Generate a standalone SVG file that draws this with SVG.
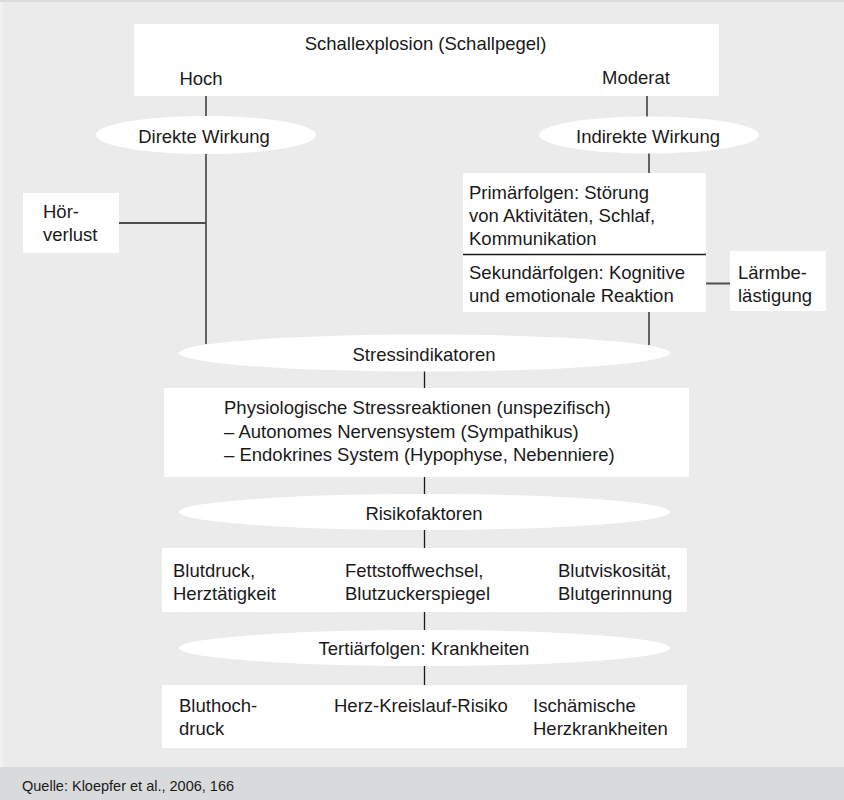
<svg xmlns="http://www.w3.org/2000/svg" width="844" height="800" viewBox="0 0 844 800">
<style>
text{font-family:"Liberation Sans",Arial,sans-serif;font-size:18.5px;fill:#1a1a1a}
.box{fill:#ffffff}
.ell{fill:#ffffff}
.ln{stroke:#1a1a1a;stroke-width:1.3;fill:none}
.gl{stroke:#4d4d4d;stroke-width:2;fill:none}
.mid{text-anchor:middle}
.src{font-size:14.5px}
</style>
<rect x="0" y="0" width="844" height="800" fill="#ebebeb"/>
<rect x="0" y="0" width="844" height="2" fill="#dcdcdc"/>
<rect x="0" y="2" width="3" height="765" fill="#f1f1f1"/>
<rect x="0" y="767" width="844" height="33" fill="#d9dadb"/>

<g id="connectors">
<line class="ln" x1="206" y1="96" x2="206" y2="116"/>
<line class="ln" x1="206" y1="154" x2="206" y2="344"/>
<line class="gl" x1="119" y1="223" x2="206" y2="223"/>
<line class="ln" x1="647" y1="96" x2="647" y2="117"/>
<line class="ln" x1="649" y1="153" x2="649" y2="173"/>
<line class="ln" x1="649" y1="312" x2="649" y2="345"/>
<line class="gl" x1="706" y1="283.5" x2="730" y2="283.5"/>
<line class="ln" x1="424.5" y1="371" x2="424.5" y2="388"/>
<line class="ln" x1="424.5" y1="477" x2="424.5" y2="494"/>
<line class="ln" x1="424.5" y1="530" x2="424.5" y2="548"/>
<line class="ln" x1="424.5" y1="612" x2="424.5" y2="630"/>
<line class="ln" x1="424.5" y1="666" x2="424.5" y2="685"/>
</g>

<g id="schallexplosion">
<rect class="box" x="134" y="24" width="585" height="72"/>
<text class="mid" x="425.5" y="50">Schallexplosion (Schallpegel)</text>
<text class="mid" x="201" y="85">Hoch</text>
<text class="mid" x="636" y="84">Moderat</text>
</g>

<g id="direkte-wirkung">
<ellipse class="ell" cx="206" cy="135" rx="110" ry="19"/>
<text class="mid" x="204" y="143">Direkte Wirkung</text>
</g>

<g id="indirekte-wirkung">
<ellipse class="ell" cx="649" cy="135" rx="110" ry="18.5"/>
<text class="mid" x="648" y="143">Indirekte Wirkung</text>
</g>

<g id="hoerverlust">
<rect class="box" x="23" y="193" width="96" height="60"/>
<text x="43" y="217.5">Hör-</text>
<text x="43" y="241">verlust</text>
</g>

<g id="folgen">
<rect class="box" x="463" y="173" width="243" height="139"/>
<line class="ln" x1="463" y1="254.5" x2="706" y2="254.5"/>
<text x="469" y="199">Primärfolgen: Störung</text>
<text x="469" y="222">von Aktivitäten, Schlaf,</text>
<text x="469" y="245">Kommunikation</text>
<text x="469" y="279">Sekundärfolgen: Kognitive</text>
<text x="469" y="302">und emotionale Reaktion</text>
</g>

<g id="laermbelaestigung">
<rect class="box" x="730" y="251" width="96" height="60"/>
<text x="738" y="279">Lärmbe-</text>
<text x="738" y="302">lästigung</text>
</g>

<g id="stressindikatoren">
<ellipse class="ell" cx="424.5" cy="353" rx="245.5" ry="18.5"/>
<text class="mid" x="424" y="360.5">Stressindikatoren</text>
</g>

<g id="stressreaktionen">
<rect class="box" x="164" y="388" width="525" height="89"/>
<text x="224" y="414">Physiologische Stressreaktionen (unspezifisch)</text>
<text x="224" y="437.5">– Autonomes Nervensystem (Sympathikus)</text>
<text x="224" y="461">– Endokrines System (Hypophyse, Nebenniere)</text>
</g>

<g id="risikofaktoren">
<ellipse class="ell" cx="424.5" cy="512" rx="245.5" ry="18"/>
<text class="mid" x="424" y="519.5">Risikofaktoren</text>
</g>

<g id="faktoren">
<rect class="box" x="162" y="548" width="525" height="64"/>
<text x="173" y="577">Blutdruck,</text>
<text x="173" y="600">Herztätigkeit</text>
<text x="345" y="577">Fettstoffwechsel,</text>
<text x="345" y="600">Blutzuckerspiegel</text>
<text x="558" y="577">Blutviskosität,</text>
<text x="558" y="600">Blutgerinnung</text>
</g>

<g id="tertiaerfolgen">
<ellipse class="ell" cx="424.5" cy="648" rx="245.5" ry="18"/>
<text class="mid" x="424" y="654.5">Tertiärfolgen: Krankheiten</text>
</g>

<g id="krankheiten">
<rect class="box" x="162" y="685" width="525" height="63"/>
<text x="179" y="712">Bluthoch-</text>
<text x="179" y="735">druck</text>
<text x="334" y="712">Herz-Kreislauf-Risiko</text>
<text x="533" y="712">Ischämische</text>
<text x="533" y="735">Herzkrankheiten</text>
</g>

<g id="quelle">
<text class="src" x="22" y="790.5">Quelle: Kloepfer et al., 2006, 166</text>
</g>
</svg>
